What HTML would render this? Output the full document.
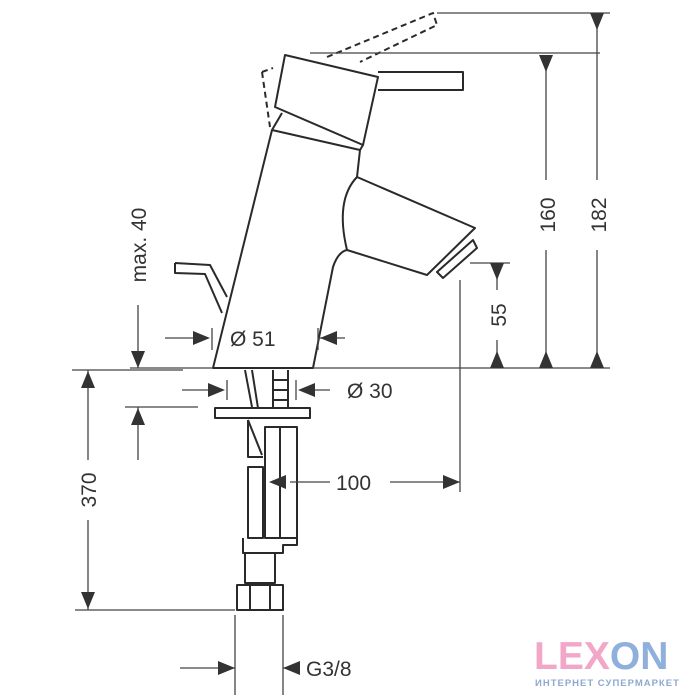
<!DOCTYPE html>
<html><head><meta charset="utf-8"><style>
html,body{margin:0;padding:0;background:#fff;width:700px;height:700px;overflow:hidden}
svg{display:block}
text{font-family:"Liberation Sans",sans-serif;fill:#333}
</style></head><body>
<svg width="700" height="700" viewBox="0 0 700 700" xmlns="http://www.w3.org/2000/svg">
<g fill="none" stroke="#2a2a2a" stroke-width="2" stroke-linejoin="round">
<path d="M327,57 L433,13 L437,25 L360,62" stroke-dasharray="6,4"/>
<path d="M262,72 L273,68 M262,72 L270,127" stroke-dasharray="6,4"/>
<polygon points="285,55 378,77 363,145 275,107"/>
<path d="M378,72 L463,72 L463,90 L378,90"/>
<path d="M282,113 L272,130 L360,150 L363,145"/>
<path d="M272,130 L213,368 L313,368 L333,267 Q338,252 347,250 L427,275 L475,228 L357,177 L360,150"/>
<path d="M357,177 Q335,200 347,250"/>
<polygon points="473,240 477,248 443,278 437,272"/>
<path d="M175,263 L210,265 L227,297 M175,263 L175,273 L205,274 L222,313"/>
<path d="M273,370 L273,408 M288,370 L288,408 M273,380 L288,380 M273,390 L288,390 M273,400 L288,400"/>
<path d="M245,370 L252,407 M252,370 L258,408 M248,420 L262,455"/>
<rect x="215" y="408" width="95" height="10"/>
<path d="M248,420 L248,457 L263,457 M248,467 L263,467 L263,538 L248,538 Z"/>
<rect x="265" y="427" width="32" height="111"/>
<path d="M280,427 L280,538"/>
<path d="M243,538 L243,553 L283,553 L283,545 L297,545 L297,538"/>
<rect x="245" y="553" width="30" height="30"/>
<rect x="237" y="585" width="46" height="25"/>
<path d="M250,585 L250,610 M270,585 L270,610"/>
</g>
<g fill="none" stroke="#444" stroke-width="1.3">
<path d="M437,13 L610,13 M310,53 L600,53 M470,263 L510,263 M130,368 L213,368 M313,368 L610,368"/>
<path d="M597,13 L597,180 M597,250 L597,368 M546,55 L546,180 M546,250 L546,368 M497,263 L497,290 M497,340 L497,368"/>
<path d="M138,305 L138,368 M72,370 L183,370 M125,407 L198,407 M138,407 L138,460"/>
<path d="M88,370 L88,460 M88,520 L88,610 M75,610 L235,610"/>
<path d="M165,338 L208,338 M318,338 L345,338 M212,328 L212,350 M318,328 L318,350"/>
<path d="M182,390 L222,390 M300,390 L330,390 M227,380 L227,400 M296,380 L296,400"/>
<path d="M290,482 L330,482 M390,482 L460,482 M460,280 L460,492"/>
<path d="M235,615 L235,695 M283,615 L283,695 M180,668 L235,668 M283,668 L300,668"/>
</g>
<g fill="#333">
<polygon points="590,13 604,13 597,30"/><polygon points="590,368 604,368 597,351"/>
<polygon points="539,55 553,55 546,72"/><polygon points="539,368 553,368 546,351"/>
<polygon points="490,263 504,263 497,280"/><polygon points="490,368 504,368 497,351"/>
<polygon points="131,351 145,351 138,368"/><polygon points="131,425 145,425 138,408"/>
<polygon points="81,388 95,388 88,371"/><polygon points="81,592 95,592 88,609"/>
<polygon points="193,331 193,345 210,338"/><polygon points="337,331 337,345 320,338"/>
<polygon points="208,383 208,397 225,390"/><polygon points="315,383 315,397 298,390"/>
<polygon points="286,475 286,489 269,482"/><polygon points="443,475 443,489 460,482"/>
<polygon points="218,661 218,675 235,668"/><polygon points="300,661 300,675 283,668"/>
</g>
<g font-size="21">
<text x="230" y="346">Ø 51</text>
<text x="347" y="398">Ø 30</text>
<text x="336" y="490">100</text>
<text x="306" y="676">G3/8</text>
<text transform="translate(555,215) rotate(-90)" text-anchor="middle">160</text>
<text transform="translate(606,215) rotate(-90)" text-anchor="middle">182</text>
<text transform="translate(506,315) rotate(-90)" text-anchor="middle">55</text>
<text transform="translate(146,245) rotate(-90)" text-anchor="middle">max. 40</text>
<text transform="translate(96,490) rotate(-90)" text-anchor="middle">370</text>
</g>
<text x="534" y="669" font-size="39" font-weight="bold"><tspan style="fill:#f2a6c8">LEX</tspan><tspan style="fill:#8fb0dc">ON</tspan></text>
<text x="535" y="686" font-size="9.5" font-weight="bold" letter-spacing="1" style="fill:#8fa8d0">ИНТЕРНЕТ СУПЕРМАРКЕТ</text>
</svg>
</body></html>
